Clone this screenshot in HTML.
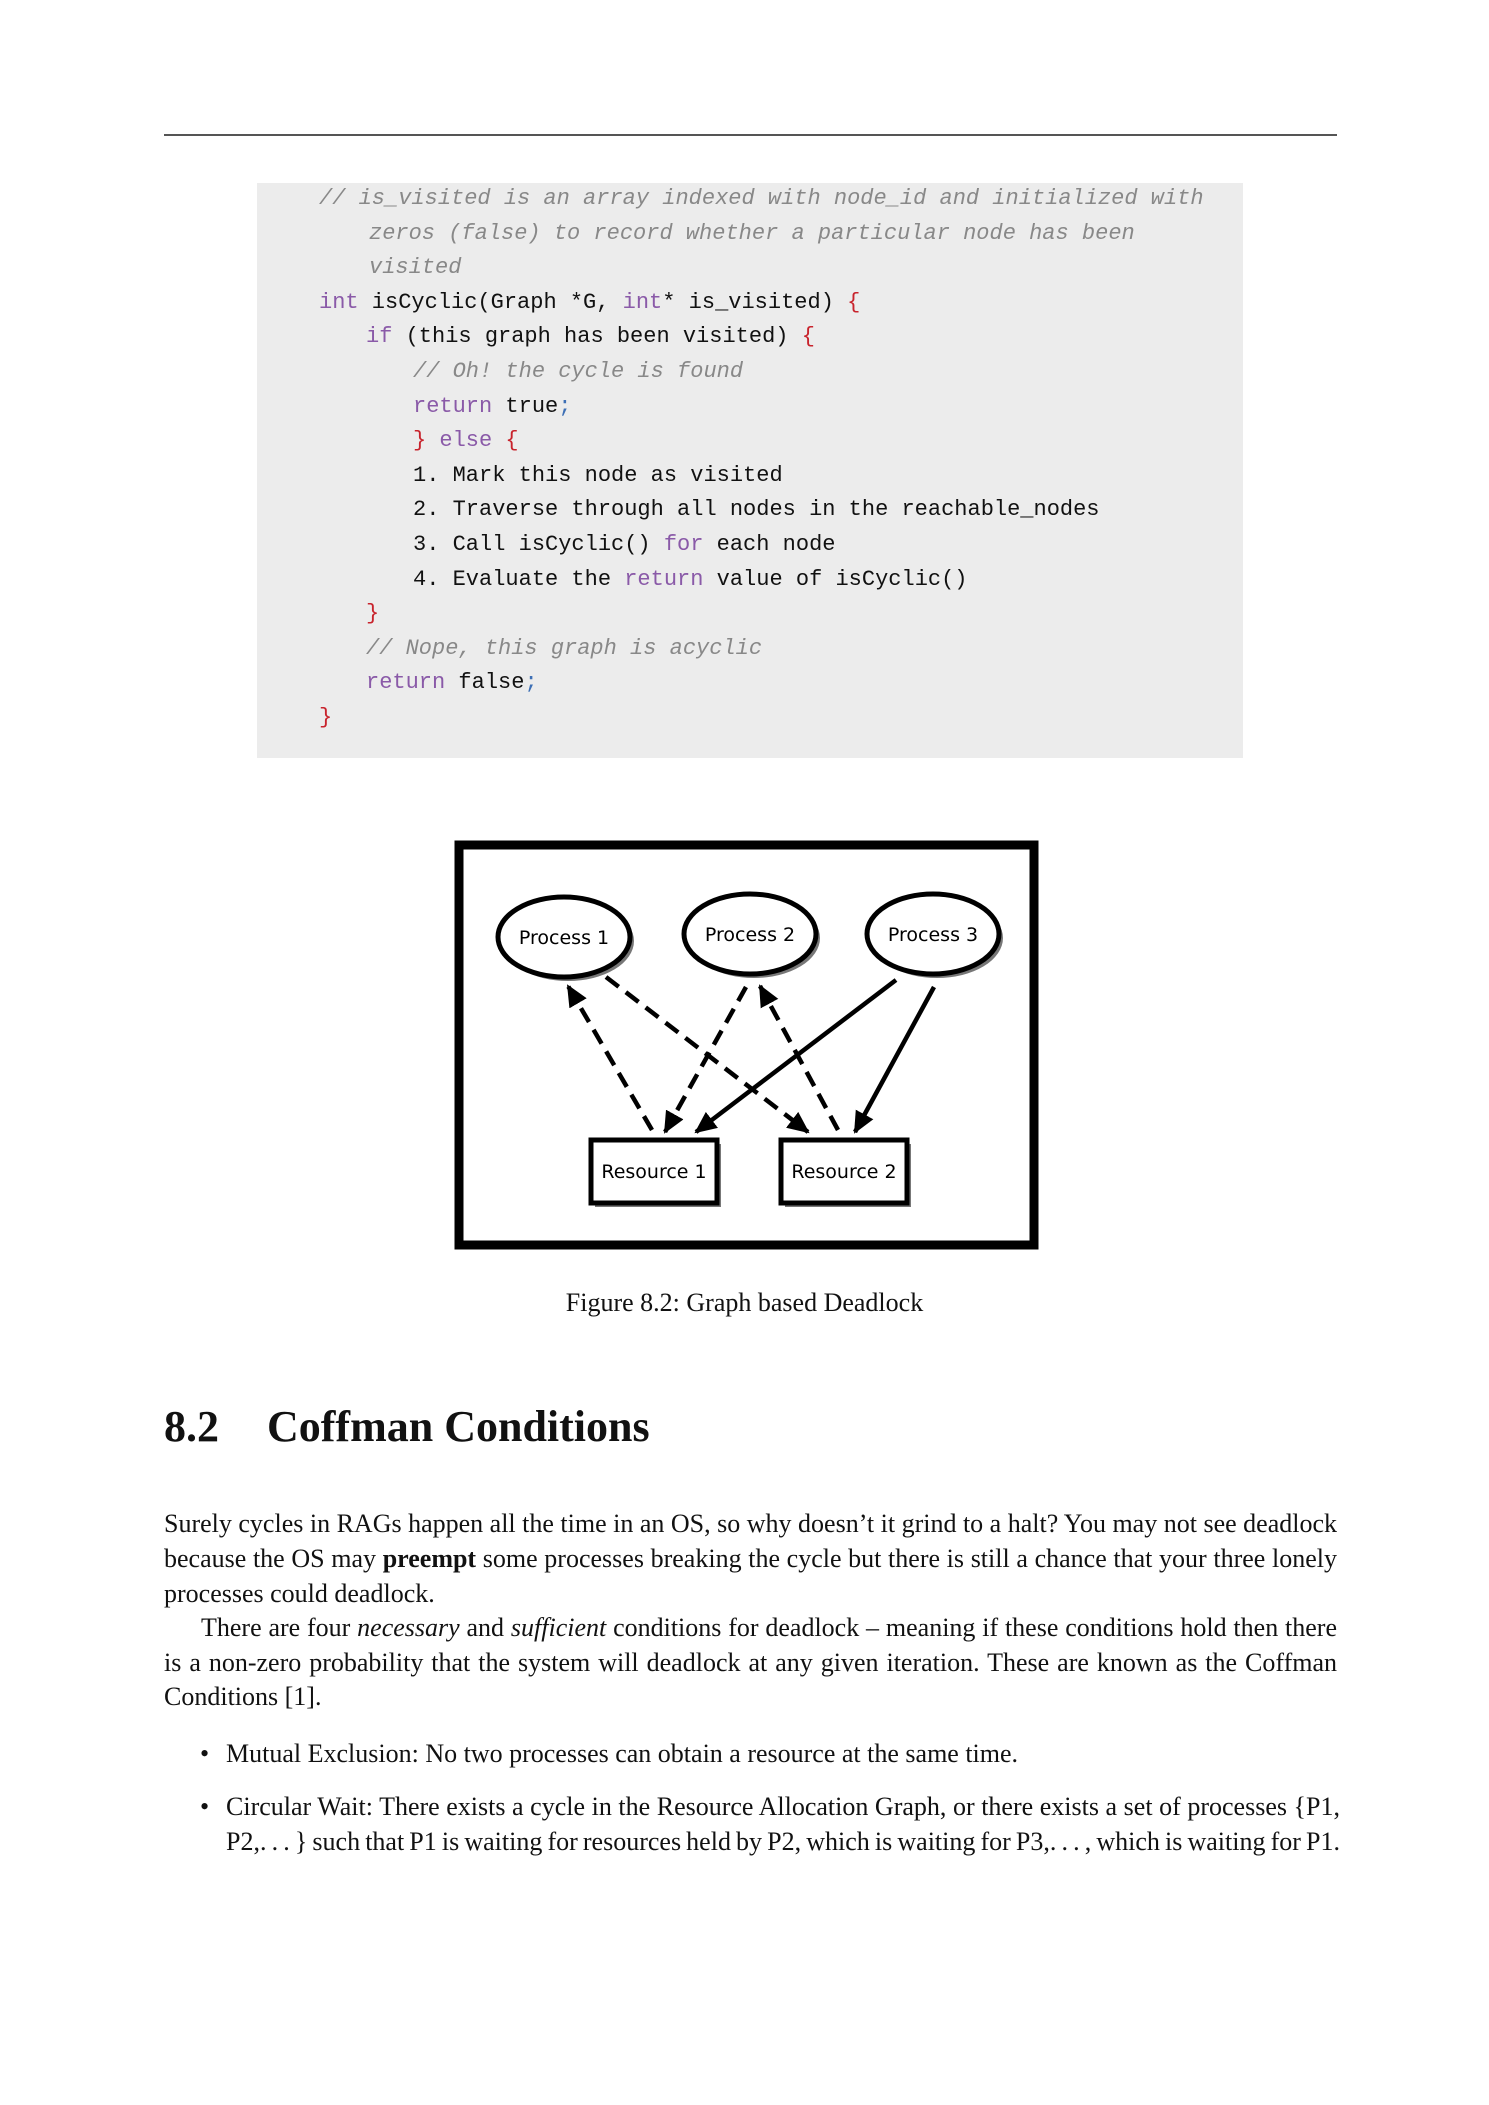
<!DOCTYPE html>
<html><head><meta charset="utf-8"><style>
body{margin:0;width:1489px;height:2105px;background:#fff;position:relative;overflow:hidden;font-family:"Liberation Serif",serif;color:#111}
.rule{position:absolute;left:164px;top:134px;width:1173px;height:2px;background:#555}
.code{position:absolute;left:257px;top:183px;width:986px;height:575px;background:#ececec}
.cl{position:absolute;font-family:"Liberation Mono",monospace;font-size:22px;line-height:26px;white-space:pre;color:#111}
.c{color:#888;font-style:italic}.k{color:#8a5aa8}.r{color:#c8232c}.b{color:#3d6fb5}
.t{position:absolute;left:164px;width:1173px;font-size:26px;line-height:30px;white-space:nowrap}
.j{text-align:justify;text-align-last:justify;white-space:normal;word-spacing:-7px}
</style></head><body>
<div class="rule"></div>
<div class="code"></div>
<div class="cl c" style="left:319px;top:186px">// is_visited is an array indexed with node_id and initialized with</div>
<div class="cl c" style="left:369px;top:221px">zeros (false) to record whether a particular node has been</div>
<div class="cl c" style="left:369px;top:255px">visited</div>
<div class="cl" style="left:319px;top:290px"><span class="k">int</span> isCyclic(Graph *G, <span class="k">int</span>* is_visited) <span class="r">{</span></div>
<div class="cl" style="left:366px;top:324px"><span class="k">if</span> (this graph has been visited) <span class="r">{</span></div>
<div class="cl c" style="left:413px;top:359px">// Oh! the cycle is found</div>
<div class="cl" style="left:413px;top:394px"><span class="k">return</span> true<span class="b">;</span></div>
<div class="cl" style="left:413px;top:428px"><span class="r">}</span> <span class="k">else</span> <span class="r">{</span></div>
<div class="cl" style="left:413px;top:463px">1. Mark this node as visited</div>
<div class="cl" style="left:413px;top:497px">2. Traverse through all nodes in the reachable_nodes</div>
<div class="cl" style="left:413px;top:532px">3. Call isCyclic() <span class="k">for</span> each node</div>
<div class="cl" style="left:413px;top:567px">4. Evaluate the <span class="k">return</span> value of isCyclic()</div>
<div class="cl r" style="left:366px;top:601px">}</div>
<div class="cl c" style="left:366px;top:636px">// Nope, this graph is acyclic</div>
<div class="cl" style="left:366px;top:670px"><span class="k">return</span> false<span class="b">;</span></div>
<div class="cl r" style="left:319px;top:705px">}</div>

<svg style="position:absolute;left:0;top:0" width="1489" height="2105">
<defs>
<marker id="a" markerUnits="userSpaceOnUse" markerWidth="24" markerHeight="24" refX="20" refY="10" orient="auto"><path d="M0,0 L22,10 L0,20 z" fill="#000"/></marker>
</defs>
<rect x="459" y="845" width="575" height="400" fill="#fff" stroke="#000" stroke-width="9"/>
<g font-family="DejaVu Sans, sans-serif" font-size="19" text-anchor="middle">
<ellipse cx="568" cy="941" rx="66" ry="40" fill="#777"/>
<ellipse cx="564" cy="937" rx="66" ry="40" fill="#fff" stroke="#000" stroke-width="5"/>
<text x="564" y="944">Process 1</text>
<ellipse cx="754" cy="938" rx="66" ry="40" fill="#777"/>
<ellipse cx="750" cy="934" rx="66" ry="40" fill="#fff" stroke="#000" stroke-width="5"/>
<text x="750" y="941">Process 2</text>
<ellipse cx="937" cy="938" rx="66" ry="40" fill="#777"/>
<ellipse cx="933" cy="934" rx="66" ry="40" fill="#fff" stroke="#000" stroke-width="5"/>
<text x="933" y="941">Process 3</text>
<rect x="595" y="1144" width="126" height="63" fill="#777"/>
<rect x="591" y="1140" width="126" height="63" fill="#fff" stroke="#000" stroke-width="5"/>
<text x="654" y="1178">Resource 1</text>
<rect x="785" y="1144" width="126" height="63" fill="#777"/>
<rect x="781" y="1140" width="126" height="63" fill="#fff" stroke="#000" stroke-width="5"/>
<text x="844" y="1178">Resource 2</text>
</g>
<g stroke="#000" stroke-width="4.5" fill="none" marker-end="url(#a)">
<line x1="652" y1="1130" x2="568" y2="986" stroke-dasharray="16,9"/>
<line x1="606" y1="977" x2="808" y2="1132" stroke-dasharray="16,9"/>
<line x1="746" y1="987" x2="665" y2="1132" stroke-dasharray="16,9"/>
<line x1="838" y1="1130" x2="760" y2="986" stroke-dasharray="16,9"/>
<line x1="896" y1="980" x2="696" y2="1132"/>
<line x1="934" y1="987" x2="855" y2="1132"/>
</g>
</svg>

<div class="t" style="top:1288px;left:0;width:1489px;text-align:center">Figure 8.2: Graph based Deadlock</div>
<div style="position:absolute;left:164px;top:1401px;font-size:44px;font-weight:bold;white-space:nowrap">8.2<span style="position:absolute;left:103px">Coffman&nbsp;Conditions</span></div>

<div class="t j" style="top:1509px">Surely cycles in RAGs happen all the time in an OS, so why doesn’t it grind to a halt? You may not see deadlock</div>
<div class="t j" style="top:1544px">because the OS may <b>preempt</b> some processes breaking the cycle but there is still a chance that your three lonely</div>
<div class="t" style="top:1579px">processes could deadlock.</div>
<div class="t j" style="top:1613px;left:201px;width:1136px">There are four <i>necessary</i> and <i>sufficient</i> conditions for deadlock – meaning if these conditions hold then there</div>
<div class="t j" style="top:1648px">is a non-zero probability that the system will deadlock at any given iteration. These are known as the Coffman</div>
<div class="t" style="top:1682px">Conditions [1].</div>
<div class="t" style="top:1739px;left:200px">•</div>
<div class="t" style="top:1739px;left:226px">Mutual Exclusion: No two processes can obtain a resource at the same time.</div>
<div class="t" style="top:1792px;left:200px">•</div>
<div class="t j" style="top:1792px;left:226px;width:1114px">Circular Wait: There exists a cycle in the Resource Allocation Graph, or there exists a set of processes {P1,</div>
<div class="t j" style="top:1827px;left:226px;width:1114px">P2,. . . } such that P1 is waiting for resources held by P2, which is waiting for P3,. . . , which is waiting for P1.</div>
</body></html>
